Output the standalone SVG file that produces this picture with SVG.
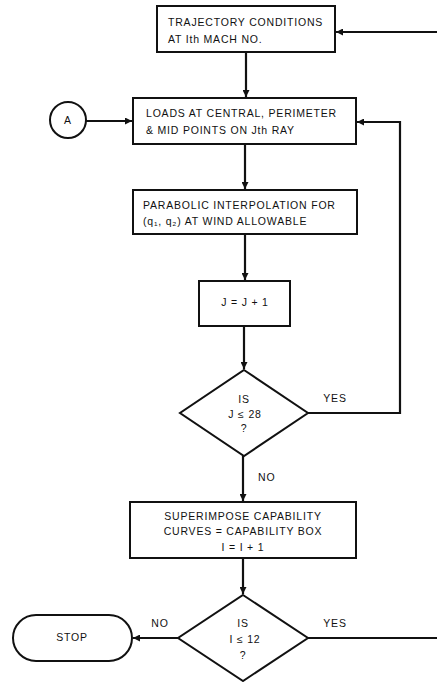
<svg xmlns="http://www.w3.org/2000/svg" width="437" height="682" viewBox="0 0 437 682">
  <style>
    .shape { fill: #fff; stroke: #111; stroke-width: 2; }
    .wire { fill: none; stroke: #111; stroke-width: 2.2; }
    text { font-family: "Liberation Sans", "DejaVu Sans", sans-serif; font-size: 10.5px; fill: #111; letter-spacing: 0.8px; }
    .mid { text-anchor: middle; }
  </style>
  <defs>
    <marker id="arrow" viewBox="0 0 10 10" refX="10" refY="5" markerWidth="7" markerHeight="7" markerUnits="userSpaceOnUse" orient="auto">
      <path d="M0,0 L10,5 L0,10 z" fill="#111"/>
    </marker>
  </defs>
  <rect width="437" height="682" fill="#fff"/>

  <!-- connectors -->
  <g id="connectors">
    <path class="wire" d="M246,52 V97" marker-end="url(#arrow)"/>
    <path class="wire" d="M86,121 H132" marker-end="url(#arrow)"/>
    <path class="wire" d="M245,144 V189" marker-end="url(#arrow)"/>
    <path class="wire" d="M245,234 V280" marker-end="url(#arrow)"/>
    <path class="wire" d="M244,326 V369" marker-end="url(#arrow)"/>
    <path class="wire" d="M308,413 H400 V122 H357" marker-end="url(#arrow)"/>
    <path class="wire" d="M243,456 V501" marker-end="url(#arrow)"/>
    <path class="wire" d="M243,558 V594" marker-end="url(#arrow)"/>
    <path class="wire" d="M178,638 H133" marker-end="url(#arrow)"/>
    <path class="wire" d="M308,638 H445 V32 H336" marker-end="url(#arrow)"/>
    <text x="335" y="402" class="mid">YES</text>
    <text x="258" y="481">NO</text>
    <text x="160" y="627" class="mid">NO</text>
    <text x="335" y="627" class="mid">YES</text>
  </g>

  <g id="trajectory">
    <rect class="shape" x="157" y="6" width="178" height="46"/>
    <text x="168" y="26">TRAJECTORY CONDITIONS</text>
    <text x="168" y="43">AT Ith MACH NO.</text>
  </g>

  <g id="connectorA">
    <circle class="shape" cx="68" cy="120" r="18"/>
    <text x="68" y="124" class="mid">A</text>
  </g>

  <g id="loads">
    <rect class="shape" x="133" y="98" width="223" height="46"/>
    <text x="146" y="117">LOADS AT CENTRAL, PERIMETER</text>
    <text x="146" y="134">&amp; MID POINTS ON Jth RAY</text>
  </g>

  <g id="interpolation">
    <rect class="shape" x="133" y="190" width="224" height="44"/>
    <text x="143" y="209">PARABOLIC INTERPOLATION FOR</text>
    <text x="143" y="225">(q₁, q₂) AT WIND ALLOWABLE</text>
  </g>

  <g id="incrementJ">
    <rect class="shape" x="199" y="281" width="91" height="45"/>
    <text x="245" y="306" class="mid">J = J + 1</text>
  </g>

  <g id="decisionJ">
    <polygon class="shape" points="244,370 308,413 244,456 180,413"/>
    <text x="244" y="403" class="mid">IS</text>
    <text x="245" y="418" class="mid">J ≤ 28</text>
    <text x="244" y="432" class="mid">?</text>
  </g>

  <g id="superimpose">
    <rect class="shape" x="130" y="502" width="226" height="56"/>
    <text x="243" y="520" class="mid">SUPERIMPOSE CAPABILITY</text>
    <text x="243" y="535" class="mid">CURVES = CAPABILITY BOX</text>
    <text x="243" y="551" class="mid">I = I + 1</text>
  </g>

  <g id="decisionI">
    <polygon class="shape" points="243,595 308,638 243,681 178,638"/>
    <text x="243" y="627" class="mid">IS</text>
    <text x="245" y="643" class="mid">I ≤ 12</text>
    <text x="243" y="659" class="mid">?</text>
  </g>

  <g id="stop">
    <rect class="shape" x="13" y="615" width="119" height="46" rx="23" ry="23"/>
    <text x="72" y="641" class="mid">STOP</text>
  </g>
</svg>
